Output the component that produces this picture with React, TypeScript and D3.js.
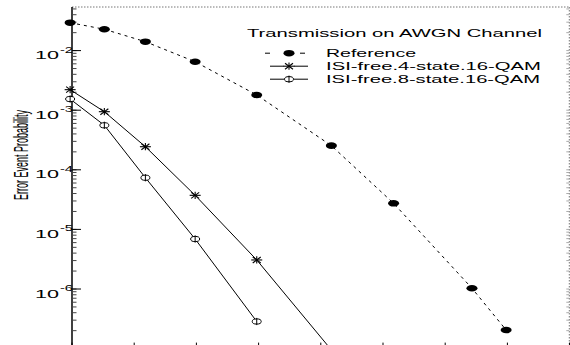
import { scaleLinear, scaleLog, line, range } from 'd3'

const width = 570
const height = 345

// x positions of the measurements, in axis-tick units (tick labels are cut off in the picture)
const snrSteps = [-0.03, 0.52, 1.18, 1.98, 2.97, 4.17, 5.17, 6.43, 6.98]
const xTicks = [0, 1, 2, 3, 4, 5, 6, 7, 8]

const referenceP = [2.94e-2, 2.28e-2, 1.41e-2, 6.5e-3, 1.8e-3, 2.54e-4, 2.74e-5, 1.03e-6, 2.05e-7]
const isi4StateP = [2.21e-3, 9.44e-4, 2.44e-4, 3.73e-5, 3.07e-6, 9.5e-8]
const isi8StateP = [1.54e-3, 5.58e-4, 7.36e-5, 6.9e-6, 2.85e-7]

const decadeExponents = [-2, -3, -4, -5, -6]

const title = 'Transmission on AWGN Channel'
const legendLabels = ['Reference', 'ISI-free.4-state.16-QAM', 'ISI-free.8-state.16-QAM']
const legendLengths = [90, 215, 214]

const font = '"Liberation Sans", Arial, Helvetica, sans-serif'

const xScale = scaleLinear().domain([0, 8]).range([72, 569.6])
const yScale = scaleLog().domain([1e-2, 1e-6]).range([50.6, 289])

const plotLeft = 72
const plotRight = 569.3
const plotTop = 7
const plotBottom = yScale(1e-7)

// every m * 10^e that falls inside the frame
const minorTicks = range(-8, -1)
  .flatMap((e) => range(1, 10).map((m) => m * Math.pow(10, e)))
  .filter((v) => yScale(v) >= plotTop && yScale(v) <= plotBottom)

const Dot = ({ x, y }) => <ellipse cx={x} cy={y} rx={5.5} ry={3.3} fill="black" />

const Star = ({ x, y }) => (
  <g stroke="black" strokeWidth={1.1}>
    <line x1={x - 5.5} x2={x + 5.5} y1={y} y2={y} />
    <line x1={x} x2={x} y1={y - 3.6} y2={y + 3.6} />
    <line x1={x - 4} x2={x + 4} y1={y - 3} y2={y + 3} />
    <line x1={x - 4} x2={x + 4} y1={y + 3} y2={y - 3} />
  </g>
)

const Phi = ({ x, y }) => (
  <g stroke="black" strokeWidth={1}>
    <ellipse cx={x} cy={y} rx={4.5} ry={2.6} fill="white" />
    <line x1={x} x2={x} y1={y - 3.6} y2={y + 3.6} />
  </g>
)

function App() {
  const path = line<[number, number]>()
    .x((d) => xScale(d[0]))
    .y((d) => yScale(d[1]))

  const pairs = (vals: number[]) => vals.map((v, i) => [snrSteps[i], v] as [number, number])

  const series = [
    { values: referenceP, dash: '3 4', Marker: Dot },
    { values: isi4StateP, dash: null, Marker: Star },
    { values: isi8StateP, dash: null, Marker: Phi }
  ]

  return (
    <svg
      width={width}
      height={height}
      style={{ position: 'absolute', left: 0, top: 0, background: 'white' }}
      fontFamily={font}
    >
      {/* frame */}
      <line x1={plotLeft} x2={plotRight} y1={plotTop} y2={plotTop} stroke="#777" strokeDasharray="1.5 1.5" />
      <line x1={plotRight} x2={plotRight} y1={plotTop} y2={plotBottom} stroke="#777" strokeDasharray="1.5 1.5" />
      <line x1={plotLeft} x2={plotRight} y1={plotBottom} y2={plotBottom} stroke="black" />
      <line x1={plotLeft} x2={plotLeft} y1={plotTop} y2={plotBottom} stroke="black" strokeWidth={1.5} />

      {/* y ticks */}
      {minorTicks.map((v) => (
        <g key={v}>
          <line x1={plotLeft} x2={plotLeft + 4.5} y1={yScale(v)} y2={yScale(v)} stroke="#444" />
          <line x1={plotRight} x2={plotRight - 3} y1={yScale(v)} y2={yScale(v)} stroke="#aaa" />
        </g>
      ))}
      {decadeExponents.map((e) => {
        const y = yScale(Math.pow(10, e))
        return (
          <g key={e}>
            <line x1={plotLeft} x2={plotLeft + 9} y1={y} y2={y} stroke="black" />
            <text x={35} y={y + 8.5} fontSize={11.5} textLength={24} lengthAdjust="spacingAndGlyphs">10</text>
            <text x={60} y={y + 2} fontSize={8.5} textLength={13} lengthAdjust="spacingAndGlyphs">{e}</text>
          </g>
        )
      })}

      {/* x ticks */}
      {xTicks.map((t) => (
        <line key={t} x1={xScale(t)} x2={xScale(t)} y1={plotBottom} y2={plotBottom - 6} stroke="black" />
      ))}

      <text
        transform={`translate(28, 155) rotate(-90)`}
        textAnchor="middle"
        fontSize={21}
        textLength={90}
        lengthAdjust="spacingAndGlyphs"
      >Error Event Probability</text>

      {/* curves */}
      {series.map((s, i) => (
        <g key={i}>
          <path
            d={path(pairs(s.values))}
            fill="none"
            stroke="black"
            strokeWidth={1}
            strokeDasharray={s.dash ?? undefined}
          />
          {pairs(s.values).map((d, j) => (
            <s.Marker key={j} x={xScale(d[0])} y={yScale(d[1])} />
          ))}
        </g>
      ))}

      {/* legend */}
      <text x={247} y={36.5} fontSize={10.5} textLength={295} lengthAdjust="spacingAndGlyphs">{title}</text>
      {series.map((s, i) => {
        const base = 57 + i * 13
        const cy = base - 3.8
        return (
          <g key={i}>
            {s.dash ? (
              <g stroke="black">
                <line x1={265} x2={270} y1={cy} y2={cy} />
                <line x1={300} x2={305} y1={cy} y2={cy} />
              </g>
            ) : (
              <g stroke="black">
                <line x1={270} x2={284} y1={cy} y2={cy} />
                <line x1={294} x2={308} y1={cy} y2={cy} />
              </g>
            )}
            <s.Marker x={289} y={cy} />
            <text x={326} y={base} fontSize={10.5} textLength={legendLengths[i]} lengthAdjust="spacingAndGlyphs">
              {legendLabels[i]}
            </text>
          </g>
        )
      })}
    </svg>
  )
}

export default App
